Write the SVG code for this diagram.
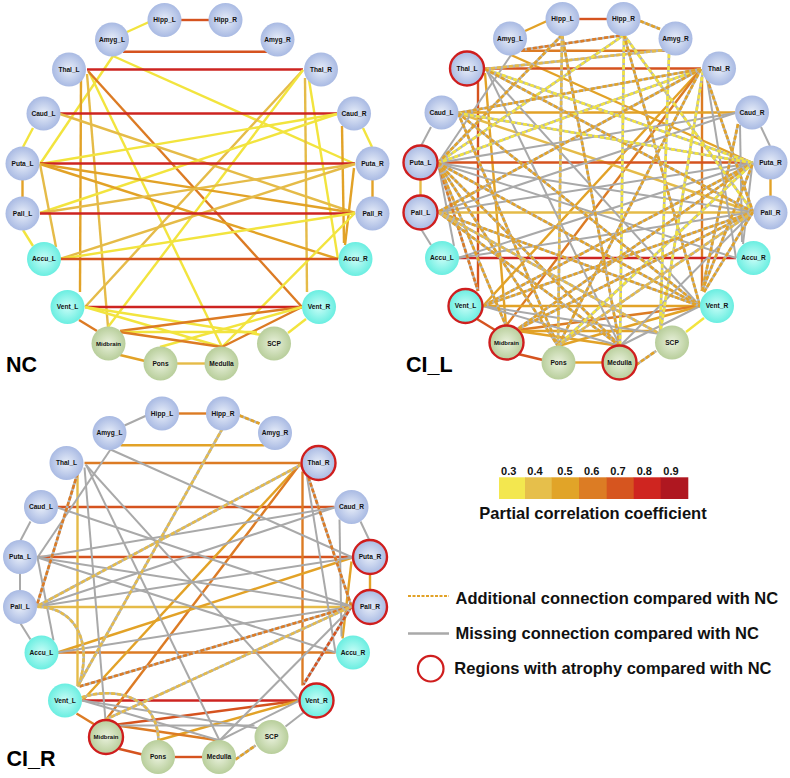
<svg xmlns="http://www.w3.org/2000/svg" width="790" height="778" viewBox="0 0 790 778">
<defs>
<radialGradient id="gb" cx="50%" cy="50%" r="50%"><stop offset="0" stop-color="#e8eef9"/><stop offset="1" stop-color="#a9bae3"/></radialGradient>
<radialGradient id="gc" cx="50%" cy="50%" r="50%"><stop offset="0" stop-color="#c9fdf7"/><stop offset="1" stop-color="#6aeee1"/></radialGradient>
<radialGradient id="gg" cx="50%" cy="50%" r="50%"><stop offset="0" stop-color="#e9f1dc"/><stop offset="1" stop-color="#b8ce9b"/></radialGradient>
</defs>
<style>
line,path{fill:none;stroke-width:2.4}
.c3{stroke:#f2e43e}.c4{stroke:#e5bb48}.c5{stroke:#e2a227}.c6{stroke:#dc7b24}.c7{stroke:#d5531f}.c8{stroke:#cd2421}.c9{stroke:#ad1620}
.g{stroke:#a9a9a9;stroke-width:2}
.db{stroke:#b4b4b4;stroke-width:2.6}
.d{stroke-width:2.6;stroke-dasharray:4 2}
.b circle{fill:url(#gb)}.c circle{fill:url(#gc)}.v circle{fill:url(#gg)}
.a circle{stroke:#cf1e1e;stroke-width:2.4}
text{font-family:"Liberation Sans",Arial,sans-serif;font-weight:bold;fill:#111}
.n text{font-size:6.6px;text-anchor:middle}
.n text.s{font-size:6px}
.pl{font-size:21.5px;fill:#000}
.lg{font-size:16.5px;fill:#111}
.num{font-size:11px;text-anchor:middle}
</style>
<rect width="790" height="778" fill="#fff"/>

<!-- ================= NC ================= -->
<g id="panel-nc">
<g id="nc-edges">
<line class="c7" x1="181" y1="20" x2="209" y2="20"/>
<line class="c3" x1="149" y1="22" x2="127" y2="32"/>
<line class="c7" x1="123" y1="51.7" x2="267" y2="51.7"/>
<line class="c3" x1="113" y1="56" x2="40" y2="164"/>
<line class="c3" x1="113" y1="56" x2="355" y2="164"/>
<line class="c8" x1="87" y1="69.5" x2="303" y2="69.5"/>
<line class="c5" x1="81" y1="78" x2="80" y2="292"/>
<line class="c4" x1="87" y1="74" x2="108" y2="327"/>
<line class="c3" x1="89" y1="72" x2="222" y2="347"/>
<line class="c6" x1="88" y1="71" x2="302" y2="307"/>
<line class="c4" x1="305" y1="78" x2="307" y2="292"/>
<line class="c3" x1="309" y1="80" x2="338" y2="259"/>
<line class="c4" x1="303" y1="70" x2="85" y2="307"/>
<line class="c3" x1="303" y1="70" x2="108" y2="327"/>
<line class="c8" x1="60" y1="113.5" x2="337" y2="113.5"/>
<line class="c3" x1="33" y1="128" x2="23" y2="147"/>
<line class="c4" x1="60" y1="114" x2="355" y2="213"/>
<line class="c3" x1="363" y1="128" x2="372" y2="147"/>
<line class="c3" x1="337" y1="114" x2="40" y2="164"/>
<line class="c3" x1="337" y1="114" x2="40" y2="213"/>
<line class="c5" x1="342" y1="126" x2="344" y2="243"/>
<line class="c8" x1="40" y1="163.5" x2="355" y2="163.5"/>
<line class="c5" x1="22.5" y1="180" x2="22.5" y2="197"/>
<line class="c5" x1="40" y1="164" x2="355" y2="213"/>
<line class="c5" x1="40" y1="164" x2="338" y2="259"/>
<line class="c4" x1="40" y1="164" x2="56" y2="247"/>
<line class="c5" x1="372.5" y1="180" x2="372.5" y2="197"/>
<line class="c4" x1="355" y1="164" x2="40" y2="213"/>
<line class="c4" x1="355" y1="164" x2="60" y2="259"/>
<line class="c5" x1="354" y1="168" x2="345" y2="245"/>
<line class="c8" x1="40" y1="213.5" x2="355" y2="213.5"/>
<line class="c3" x1="23" y1="230" x2="33" y2="246"/>
<line class="c3" x1="355" y1="213" x2="60" y2="259"/>
<line class="c3" x1="355" y1="213" x2="222" y2="347"/>
<line class="c7" x1="60" y1="259" x2="338" y2="259"/>
<line class="c8" x1="85" y1="307" x2="302" y2="307"/>
<line class="c6" x1="79" y1="320" x2="97" y2="331"/>
<line class="c3" x1="85" y1="307" x2="222" y2="347"/>
<line class="c3" x1="85" y1="307" x2="262" y2="335"/>
<line class="c6" x1="302" y1="307" x2="120" y2="331"/>
<line class="c6" x1="302" y1="307" x2="222" y2="347"/>
<line class="c3" x1="306" y1="319" x2="288" y2="333"/>
<line class="c3" x1="302" y1="307" x2="160" y2="347"/>
<line class="c3" x1="120" y1="332" x2="257" y2="332"/>
<line class="c6" x1="120" y1="332" x2="222" y2="347"/>
<line class="c5" x1="120" y1="355" x2="145" y2="361"/>
<line class="c4" x1="177" y1="363.5" x2="205" y2="363.5"/>
</g>
<g id="nc-HippL" class="n b"><circle cx="164.5" cy="20" r="17"/><text x="164.5" y="22.3">Hipp_L</text></g>
<g id="nc-HippR" class="n b"><circle cx="225.5" cy="20" r="17"/><text x="225.5" y="22.3">Hipp_R</text></g>
<g id="nc-AmygL" class="n b"><circle cx="112" cy="39.5" r="17"/><text x="112" y="41.8">Amyg_L</text></g>
<g id="nc-AmygR" class="n b"><circle cx="277.5" cy="39.5" r="17"/><text x="277.5" y="41.8">Amyg_R</text></g>
<g id="nc-ThalL" class="n b"><circle cx="69" cy="69.5" r="17"/><text x="69" y="71.8">Thal_L</text></g>
<g id="nc-ThalR" class="n b"><circle cx="321" cy="69.5" r="17"/><text x="321" y="71.8">Thal_R</text></g>
<g id="nc-CaudL" class="n b"><circle cx="43.5" cy="113.5" r="17"/><text x="43.5" y="115.8">Caud_L</text></g>
<g id="nc-CaudR" class="n b"><circle cx="354" cy="113.5" r="17"/><text x="354" y="115.8">Caud_R</text></g>
<g id="nc-PutaL" class="n b"><circle cx="22.5" cy="163.5" r="17"/><text x="22.5" y="165.8">Puta_L</text></g>
<g id="nc-PutaR" class="n b"><circle cx="372.5" cy="163.5" r="17"/><text x="372.5" y="165.8">Puta_R</text></g>
<g id="nc-PallL" class="n b"><circle cx="22.5" cy="213.5" r="17"/><text x="22.5" y="215.8">Pall_L</text></g>
<g id="nc-PallR" class="n b"><circle cx="372.5" cy="213.5" r="17"/><text x="372.5" y="215.8">Pall_R</text></g>
<g id="nc-AccuL" class="n c"><circle cx="44" cy="259" r="17"/><text x="44" y="261.3">Accu_L</text></g>
<g id="nc-AccuR" class="n c"><circle cx="355.5" cy="259" r="17"/><text x="355.5" y="261.3">Accu_R</text></g>
<g id="nc-VentL" class="n c"><circle cx="67.5" cy="307" r="17"/><text x="67.5" y="309.3">Vent_L</text></g>
<g id="nc-VentR" class="n c"><circle cx="319" cy="307" r="17"/><text x="319" y="309.3">Vent_R</text></g>
<g id="nc-Midbrain" class="n v"><circle cx="108.5" cy="343.5" r="17"/><text class="s" x="108.5" y="345.7">Midbrain</text></g>
<g id="nc-SCP" class="n v"><circle cx="274" cy="343.5" r="17"/><text x="274" y="345.8">SCP</text></g>
<g id="nc-Pons" class="n v"><circle cx="160.5" cy="363.5" r="17"/><text x="160.5" y="365.8">Pons</text></g>
<g id="nc-Medulla" class="n v"><circle cx="221.5" cy="363.5" r="17"/><text x="221.5" y="365.8">Medulla</text></g>
<text class="pl" x="6" y="372">NC</text>
</g>

<!-- ================= CI_L ================= -->
<g id="panel-cil" transform="translate(398,-1)">
<g id="cil-edges">
<line class="c7" x1="181" y1="20" x2="209" y2="20"/>
<line class="c5" x1="149" y1="22" x2="127" y2="32"/>
<line class="c6" x1="123" y1="51.7" x2="267" y2="51.7"/>
<line class="c5" x1="113" y1="56" x2="355" y2="164"/>
<line class="c7" x1="87" y1="69.5" x2="303" y2="69.5"/>
<line class="c7" x1="80" y1="78" x2="80" y2="292"/>
<line class="c6" x1="304" y1="78" x2="304" y2="292"/>
<line class="c5" x1="87" y1="74" x2="108" y2="327"/>
<line class="c5" x1="303" y1="70" x2="85" y2="307"/>
<line class="c6" x1="303" y1="70" x2="108" y2="327"/>
<line class="c5" x1="60" y1="113.5" x2="337" y2="113.5"/>
<line class="c4" x1="60" y1="114" x2="355" y2="213"/>
<line class="c7" x1="40" y1="163.5" x2="355" y2="163.5"/>
<line class="c4" x1="22.5" y1="180" x2="22.5" y2="197"/>
<line class="c5" x1="372.5" y1="180" x2="372.5" y2="197"/>
<line class="c4" x1="40" y1="213.5" x2="355" y2="213.5"/>
<line class="c8" x1="60" y1="259" x2="338" y2="259"/>
<line class="c5" x1="85" y1="307" x2="302" y2="307"/>
<line class="c7" x1="79" y1="320" x2="97" y2="331"/>
<line class="c7" x1="120" y1="355" x2="145" y2="361"/>
<line class="c5" x1="177" y1="363.5" x2="205" y2="363.5"/>
<line class="c3" x1="306" y1="319" x2="288" y2="333"/>
<line class="c6" x1="302" y1="307" x2="120" y2="331"/>
<line class="c5" x1="302" y1="307" x2="160" y2="347"/>
<line class="c5" x1="120" y1="332" x2="257" y2="332"/>
<line class="c5" x1="120" y1="332" x2="222" y2="347"/>
<line class="g" x1="113" y1="56" x2="40" y2="164"/>
<line class="g" x1="89" y1="72" x2="222" y2="347"/>
<line class="g" x1="88" y1="71" x2="302" y2="307"/>
<line class="g" x1="309" y1="80" x2="338" y2="259"/>
<line class="g" x1="33" y1="128" x2="23" y2="147"/>
<line class="g" x1="363" y1="128" x2="372" y2="147"/>
<line class="g" x1="337" y1="114" x2="40" y2="164"/>
<line class="g" x1="337" y1="114" x2="40" y2="213"/>
<line class="g" x1="342" y1="126" x2="344" y2="243"/>
<line class="g" x1="40" y1="164" x2="355" y2="213"/>
<line class="g" x1="40" y1="164" x2="338" y2="259"/>
<line class="g" x1="40" y1="164" x2="56" y2="247"/>
<line class="g" x1="355" y1="164" x2="40" y2="213"/>
<line class="g" x1="355" y1="164" x2="60" y2="259"/>
<line class="g" x1="354" y1="168" x2="345" y2="245"/>
<line class="g" x1="23" y1="230" x2="33" y2="246"/>
<line class="g" x1="355" y1="213" x2="60" y2="259"/>
<line class="g" x1="355" y1="213" x2="222" y2="347"/>
<line class="g" x1="85" y1="307" x2="222" y2="347"/>
<line class="g" x1="85" y1="307" x2="262" y2="335"/>
<line class="g" x1="302" y1="307" x2="222" y2="347"/>
<line class="db" x1="242" y1="22" x2="262" y2="30"/><line class="d c5" x1="242" y1="22" x2="262" y2="30"/>
<line class="db" x1="238" y1="366" x2="258" y2="352"/><line class="d c5" x1="238" y1="366" x2="258" y2="352"/>
<line class="db" x1="123" y1="51" x2="226" y2="36"/><line class="d c6" x1="123" y1="51" x2="226" y2="36"/>
<line class="db" x1="87" y1="70" x2="267" y2="51"/><line class="d c4" x1="87" y1="70" x2="267" y2="51"/>
<line class="db" x1="226" y1="36" x2="40" y2="164"/><line class="d c3" x1="226" y1="36" x2="40" y2="164"/>
<line class="db" x1="164" y1="36" x2="40" y2="164"/><line class="d c5" x1="164" y1="36" x2="40" y2="164"/>
<line class="db" x1="164" y1="36" x2="222" y2="347"/><line class="d c5" x1="164" y1="36" x2="222" y2="347"/>
<line class="db" x1="164" y1="36" x2="160" y2="347"/><line class="d c4" x1="164" y1="36" x2="160" y2="347"/>
<line class="db" x1="226" y1="36" x2="222" y2="347"/><line class="d c3" x1="226" y1="36" x2="222" y2="347"/>
<line class="db" x1="226" y1="36" x2="355" y2="213"/><line class="d c3" x1="226" y1="36" x2="355" y2="213"/>
<line class="db" x1="226" y1="36" x2="302" y2="307"/><line class="d c5" x1="226" y1="36" x2="302" y2="307"/>
<line class="db" x1="271" y1="55" x2="262" y2="335"/><line class="d c3" x1="271" y1="55" x2="262" y2="335"/>
<line class="db" x1="303" y1="70" x2="40" y2="164"/><line class="d c3" x1="303" y1="70" x2="40" y2="164"/>
<line class="db" x1="303" y1="70" x2="40" y2="213"/><line class="d c5" x1="303" y1="70" x2="40" y2="213"/>
<line class="db" x1="303" y1="70" x2="60" y2="114"/><line class="d c5" x1="303" y1="70" x2="60" y2="114"/>
<line class="db" x1="303" y1="70" x2="160" y2="347"/><line class="d c5" x1="303" y1="70" x2="160" y2="347"/>
<line class="db" x1="305" y1="72" x2="262" y2="335"/><line class="d c3" x1="305" y1="72" x2="262" y2="335"/>
<line class="db" x1="307" y1="74" x2="355" y2="213"/><line class="d c5" x1="307" y1="74" x2="355" y2="213"/>
<line class="db" x1="87" y1="70" x2="355" y2="164"/><line class="d c3" x1="87" y1="70" x2="355" y2="164"/>
<line class="db" x1="87" y1="70" x2="355" y2="213"/><line class="d c5" x1="87" y1="70" x2="355" y2="213"/>
<line class="db" x1="60" y1="114" x2="355" y2="164"/><line class="d c3" x1="60" y1="114" x2="355" y2="164"/>
<line class="db" x1="60" y1="114" x2="302" y2="307"/><line class="d c5" x1="60" y1="114" x2="302" y2="307"/>
<line class="db" x1="60" y1="114" x2="160" y2="347"/><line class="d c5" x1="60" y1="114" x2="160" y2="347"/>
<line class="db" x1="340" y1="125" x2="304" y2="292"/><line class="d c5" x1="340" y1="125" x2="304" y2="292"/>
<line class="db" x1="40" y1="164" x2="80" y2="292"/><line class="d c6" x1="40" y1="164" x2="80" y2="292"/>
<line class="db" x1="40" y1="164" x2="108" y2="327"/><line class="d c5" x1="40" y1="164" x2="108" y2="327"/>
<line class="db" x1="40" y1="164" x2="160" y2="347"/><line class="d c5" x1="40" y1="164" x2="160" y2="347"/>
<line class="db" x1="40" y1="164" x2="222" y2="347"/><line class="d c5" x1="40" y1="164" x2="222" y2="347"/>
<line class="db" x1="40" y1="164" x2="302" y2="307"/><line class="d c5" x1="40" y1="164" x2="302" y2="307"/>
<line class="db" x1="40" y1="213" x2="222" y2="347"/><line class="d c5" x1="40" y1="213" x2="222" y2="347"/>
<line class="db" x1="40" y1="213" x2="302" y2="307"/><line class="d c5" x1="40" y1="213" x2="302" y2="307"/>
<line class="db" x1="40" y1="213" x2="262" y2="335"/><line class="d c4" x1="40" y1="213" x2="262" y2="335"/>
<line class="db" x1="355" y1="164" x2="85" y2="307"/><line class="d c5" x1="355" y1="164" x2="85" y2="307"/>
<line class="db" x1="355" y1="164" x2="118" y2="331"/><line class="d c5" x1="355" y1="164" x2="118" y2="331"/>
<line class="db" x1="355" y1="164" x2="160" y2="347"/><line class="d c3" x1="355" y1="164" x2="160" y2="347"/>
<line class="db" x1="355" y1="213" x2="85" y2="307"/><line class="d c5" x1="355" y1="213" x2="85" y2="307"/>
<line class="db" x1="355" y1="213" x2="118" y2="331"/><line class="d c5" x1="355" y1="213" x2="118" y2="331"/>
<line class="db" x1="355" y1="213" x2="160" y2="347"/><line class="d c4" x1="355" y1="213" x2="160" y2="347"/>
<line class="db" x1="304" y1="292" x2="355" y2="164"/><line class="d c5" x1="304" y1="292" x2="355" y2="164"/>
<line class="db" x1="306" y1="293" x2="355" y2="213"/><line class="d c5" x1="306" y1="293" x2="355" y2="213"/>
</g>
<g id="cil-HippL" class="n b"><circle cx="164.5" cy="20" r="17"/><text x="164.5" y="22.3">Hipp_L</text></g>
<g id="cil-HippR" class="n b"><circle cx="225.5" cy="20" r="17"/><text x="225.5" y="22.3">Hipp_R</text></g>
<g id="cil-AmygL" class="n b"><circle cx="112" cy="39.5" r="17"/><text x="112" y="41.8">Amyg_L</text></g>
<g id="cil-AmygR" class="n b"><circle cx="277.5" cy="39.5" r="17"/><text x="277.5" y="41.8">Amyg_R</text></g>
<g id="cil-ThalL" class="n b a"><circle cx="69" cy="69.5" r="17"/><text x="69" y="71.8">Thal_L</text></g>
<g id="cil-ThalR" class="n b"><circle cx="321" cy="69.5" r="17"/><text x="321" y="71.8">Thal_R</text></g>
<g id="cil-CaudL" class="n b"><circle cx="43.5" cy="113.5" r="17"/><text x="43.5" y="115.8">Caud_L</text></g>
<g id="cil-CaudR" class="n b"><circle cx="354" cy="113.5" r="17"/><text x="354" y="115.8">Caud_R</text></g>
<g id="cil-PutaL" class="n b a"><circle cx="22.5" cy="163.5" r="17"/><text x="22.5" y="165.8">Puta_L</text></g>
<g id="cil-PutaR" class="n b"><circle cx="372.5" cy="163.5" r="17"/><text x="372.5" y="165.8">Puta_R</text></g>
<g id="cil-PallL" class="n b a"><circle cx="22.5" cy="213.5" r="17"/><text x="22.5" y="215.8">Pall_L</text></g>
<g id="cil-PallR" class="n b"><circle cx="372.5" cy="213.5" r="17"/><text x="372.5" y="215.8">Pall_R</text></g>
<g id="cil-AccuL" class="n c"><circle cx="44" cy="259" r="17"/><text x="44" y="261.3">Accu_L</text></g>
<g id="cil-AccuR" class="n c"><circle cx="355.5" cy="259" r="17"/><text x="355.5" y="261.3">Accu_R</text></g>
<g id="cil-VentL" class="n c a"><circle cx="67.5" cy="307" r="17"/><text x="67.5" y="309.3">Vent_L</text></g>
<g id="cil-VentR" class="n c"><circle cx="319" cy="307" r="17"/><text x="319" y="309.3">Vent_R</text></g>
<g id="cil-Midbrain" class="n v a"><circle cx="108.5" cy="343.5" r="17"/><text class="s" x="108.5" y="345.7">Midbrain</text></g>
<g id="cil-SCP" class="n v"><circle cx="274" cy="343.5" r="17"/><text x="274" y="345.8">SCP</text></g>
<g id="cil-Pons" class="n v"><circle cx="160.5" cy="363.5" r="17"/><text x="160.5" y="365.8">Pons</text></g>
<g id="cil-Medulla" class="n v a"><circle cx="221.5" cy="363.5" r="17"/><text x="221.5" y="365.8">Medulla</text></g>
<text class="pl" x="8" y="373">CI_L</text>
</g>

<!-- ================= CI_R ================= -->
<g id="panel-cir" transform="translate(-2.5,393.5)">
<g id="cir-edges">
<line class="c6" x1="181" y1="20" x2="209" y2="20"/>
<line class="c5" x1="123" y1="51.7" x2="267" y2="51.7"/>
<line class="c6" x1="87" y1="69.5" x2="303" y2="69.5"/>
<line class="c7" x1="60" y1="113.5" x2="337" y2="113.5"/>
<line class="c7" x1="40" y1="163.5" x2="355" y2="163.5"/>
<line class="c4" x1="40" y1="213.5" x2="355" y2="213.5"/>
<line class="c6" x1="60" y1="259" x2="338" y2="259"/>
<line class="c8" x1="85" y1="307" x2="302" y2="307"/>
<line class="c5" x1="372.5" y1="180" x2="372.5" y2="197"/>
<line class="c4" x1="80" y1="79" x2="80" y2="292"/>
<line class="c6" x1="305" y1="78" x2="305" y2="292"/>
<line class="c5" x1="303" y1="70" x2="85" y2="307"/>
<line class="c6" x1="303" y1="70" x2="108" y2="327"/>
<line class="c5" x1="60" y1="259" x2="355" y2="164"/>
<line class="c5" x1="354" y1="168" x2="345" y2="245"/>
<line class="c6" x1="79" y1="320" x2="97" y2="331"/>
<line class="c7" x1="120" y1="355" x2="145" y2="361"/>
<line class="c7" x1="177" y1="363.5" x2="205" y2="363.5"/>
<line class="c7" x1="302" y1="307" x2="120" y2="331"/>
<line class="c5" x1="302" y1="307" x2="160" y2="347"/>
<line class="c6" x1="120" y1="332" x2="222" y2="347"/>
<line class="g" x1="149" y1="22" x2="127" y2="32"/>
<line class="g" x1="33" y1="128" x2="23" y2="147"/>
<line class="g" x1="22.5" y1="180" x2="22.5" y2="197"/>
<line class="g" x1="23" y1="230" x2="33" y2="246"/>
<line class="g" x1="363" y1="128" x2="372" y2="147"/>
<line class="g" x1="306" y1="319" x2="288" y2="333"/>
<line class="g" x1="113" y1="56" x2="40" y2="164"/>
<line class="g" x1="113" y1="56" x2="355" y2="164"/>
<line class="g" x1="87" y1="74" x2="108" y2="327"/>
<line class="g" x1="89" y1="72" x2="222" y2="347"/>
<line class="g" x1="88" y1="71" x2="302" y2="307"/>
<line class="g" x1="309" y1="80" x2="338" y2="259"/>
<line class="g" x1="60" y1="114" x2="355" y2="213"/>
<line class="g" x1="337" y1="114" x2="40" y2="164"/>
<line class="g" x1="337" y1="114" x2="40" y2="213"/>
<line class="g" x1="342" y1="126" x2="344" y2="243"/>
<line class="g" x1="40" y1="164" x2="355" y2="213"/>
<line class="g" x1="40" y1="164" x2="338" y2="259"/>
<line class="g" x1="40" y1="164" x2="56" y2="247"/>
<line class="g" x1="355" y1="164" x2="40" y2="213"/>
<line class="g" x1="355" y1="213" x2="60" y2="259"/>
<line class="g" x1="355" y1="213" x2="222" y2="347"/>
<line class="g" x1="85" y1="307" x2="222" y2="347"/>
<line class="g" x1="85" y1="307" x2="262" y2="335"/>
<line class="g" x1="120" y1="332" x2="257" y2="332"/>
<line class="g" x1="302" y1="307" x2="222" y2="347"/>
<line class="db" x1="242" y1="22" x2="262" y2="30"/><line class="d c5" x1="242" y1="22" x2="262" y2="30"/>
<line class="db" x1="238" y1="366" x2="258" y2="352"/><line class="d c5" x1="238" y1="366" x2="258" y2="352"/>
<line class="db" x1="225" y1="35" x2="80" y2="293"/><line class="d c4" x1="225" y1="35" x2="80" y2="293"/>
<line class="db" x1="80" y1="80" x2="39" y2="213"/><line class="d c6" x1="80" y1="80" x2="39" y2="213"/>
<line class="db" x1="309" y1="78" x2="354" y2="213"/><line class="d c6" x1="309" y1="78" x2="354" y2="213"/>
<line class="db" x1="354" y1="213" x2="306" y2="291"/><line class="d c7" x1="354" y1="213" x2="306" y2="291"/>
<line class="db" x1="304" y1="71" x2="39" y2="213"/><line class="d c4" x1="304" y1="71" x2="39" y2="213"/>
<line class="db" x1="82" y1="293" x2="354" y2="213"/><line class="d c6" x1="82" y1="293" x2="354" y2="213"/>
<line class="db" x1="108" y1="326" x2="354" y2="213"/><line class="d c4" x1="108" y1="326" x2="354" y2="213"/>
<path class="db" d="M40 213 C80 215 95 250 81 293"/><path class="d c4" d="M40 213 C80 215 95 250 81 293"/>
<path class="db" d="M84 304 C120 292 160 305 161 347"/><path class="d c4" d="M84 304 C120 292 160 305 161 347"/>
</g>
<g id="cir-HippL" class="n b"><circle cx="164.5" cy="20" r="17"/><text x="164.5" y="22.3">Hipp_L</text></g>
<g id="cir-HippR" class="n b"><circle cx="225.5" cy="20" r="17"/><text x="225.5" y="22.3">Hipp_R</text></g>
<g id="cir-AmygL" class="n b"><circle cx="112" cy="39.5" r="17"/><text x="112" y="41.8">Amyg_L</text></g>
<g id="cir-AmygR" class="n b"><circle cx="277.5" cy="39.5" r="17"/><text x="277.5" y="41.8">Amyg_R</text></g>
<g id="cir-ThalL" class="n b"><circle cx="69" cy="69.5" r="17"/><text x="69" y="71.8">Thal_L</text></g>
<g id="cir-ThalR" class="n b a"><circle cx="321" cy="69.5" r="17"/><text x="321" y="71.8">Thal_R</text></g>
<g id="cir-CaudL" class="n b"><circle cx="43.5" cy="113.5" r="17"/><text x="43.5" y="115.8">Caud_L</text></g>
<g id="cir-CaudR" class="n b"><circle cx="354" cy="113.5" r="17"/><text x="354" y="115.8">Caud_R</text></g>
<g id="cir-PutaL" class="n b"><circle cx="22.5" cy="163.5" r="17"/><text x="22.5" y="165.8">Puta_L</text></g>
<g id="cir-PutaR" class="n b a"><circle cx="372.5" cy="163.5" r="17"/><text x="372.5" y="165.8">Puta_R</text></g>
<g id="cir-PallL" class="n b"><circle cx="22.5" cy="213.5" r="17"/><text x="22.5" y="215.8">Pall_L</text></g>
<g id="cir-PallR" class="n b a"><circle cx="372.5" cy="213.5" r="17"/><text x="372.5" y="215.8">Pall_R</text></g>
<g id="cir-AccuL" class="n c"><circle cx="44" cy="259" r="17"/><text x="44" y="261.3">Accu_L</text></g>
<g id="cir-AccuR" class="n c"><circle cx="355.5" cy="259" r="17"/><text x="355.5" y="261.3">Accu_R</text></g>
<g id="cir-VentL" class="n c"><circle cx="67.5" cy="307" r="17"/><text x="67.5" y="309.3">Vent_L</text></g>
<g id="cir-VentR" class="n c a"><circle cx="319" cy="307" r="17"/><text x="319" y="309.3">Vent_R</text></g>
<g id="cir-Midbrain" class="n v a"><circle cx="108.5" cy="343.5" r="17"/><text class="s" x="108.5" y="345.7">Midbrain</text></g>
<g id="cir-SCP" class="n v"><circle cx="274" cy="343.5" r="17"/><text x="274" y="345.8">SCP</text></g>
<g id="cir-Pons" class="n v"><circle cx="160.5" cy="363.5" r="17"/><text x="160.5" y="365.8">Pons</text></g>
<g id="cir-Medulla" class="n v"><circle cx="221.5" cy="363.5" r="17"/><text x="221.5" y="365.8">Medulla</text></g>
<text class="pl" x="9" y="372">CI_R</text>
</g>

<!-- ================= Legend ================= -->
<g id="legend">
<text class="num" x="508.7" y="475">0.3</text>
<text class="num" x="535" y="475">0.4</text>
<text class="num" x="565" y="475">0.5</text>
<text class="num" x="591.7" y="475">0.6</text>
<text class="num" x="618" y="475">0.7</text>
<text class="num" x="644.3" y="475">0.8</text>
<text class="num" x="671" y="475">0.9</text>
<rect x="499" y="477.3" width="26.5" height="21.7" fill="#f3e74f"/>
<rect x="525" y="477.3" width="27" height="21.7" fill="#e6bf4b"/>
<rect x="551.7" y="477.3" width="27.6" height="21.7" fill="#e1a428"/>
<rect x="579" y="477.3" width="28" height="21.7" fill="#dc7c24"/>
<rect x="606.7" y="477.3" width="27.3" height="21.7" fill="#d6551f"/>
<rect x="633.7" y="477.3" width="27.3" height="21.7" fill="#cf2520"/>
<rect x="660.7" y="477.3" width="27.6" height="21.7" fill="#af1720"/>
<text class="lg" x="593" y="519" text-anchor="middle">Partial correlation coefficient</text>
<line class="c5" x1="408" y1="596" x2="449" y2="596" style="stroke-width:2;stroke-dasharray:3 1.5"/>
<text class="lg" x="455.5" y="604">Additional connection compared with NC</text>
<line class="g" x1="408" y1="633.5" x2="449" y2="633.5" style="stroke-width:2.4"/>
<text class="lg" x="455.5" y="639.3">Missing connection compared with NC</text>
<circle cx="430.7" cy="668.7" r="12.8" fill="none" stroke="#cf1e1e" stroke-width="2.2"/>
<text class="lg" x="454.3" y="674">Regions with atrophy compared with NC</text>
</g>
</svg>
